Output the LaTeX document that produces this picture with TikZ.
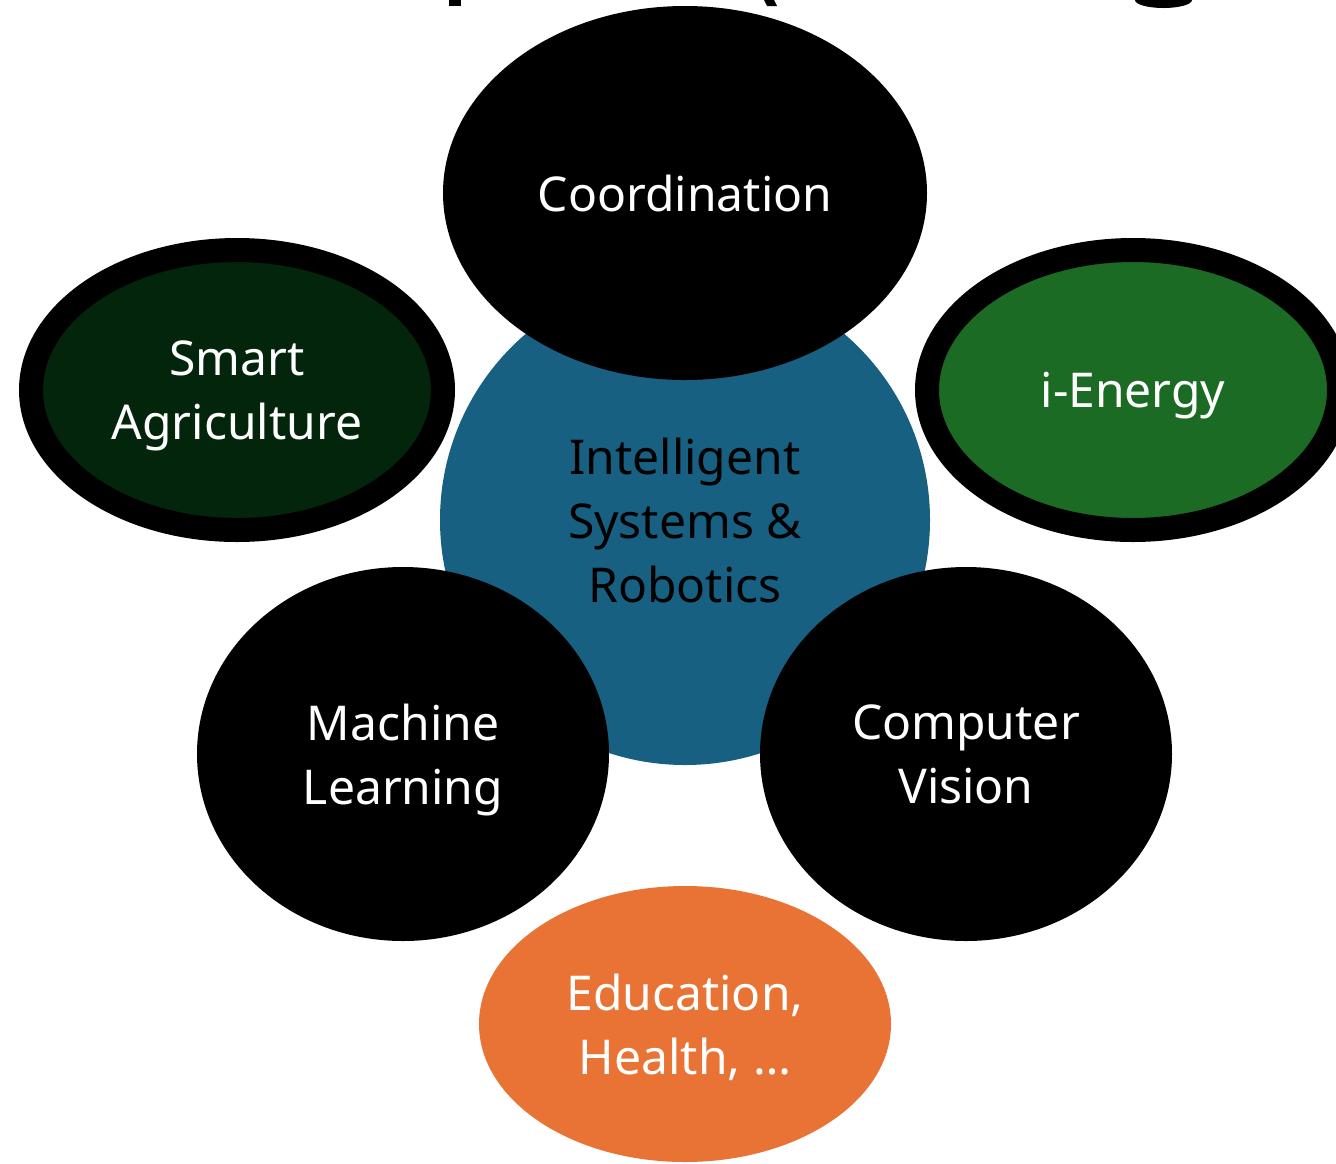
\documentclass[tikz,border=0pt]{standalone}
\usepackage{fontspec}
\setmainfont{Noto Sans}
\usetikzlibrary{shapes.geometric}
\definecolor{hubblue}{RGB}{23,96,130}
\definecolor{agrigreen}{RGB}{3,37,11}
\definecolor{energygreen}{RGB}{27,107,36}
\definecolor{eduorange}{RGB}{233,115,52}
\tikzset{
  lbl/.style={font=\fontsize{48}{64}\selectfont, align=center, text=white, inner sep=0pt, text depth=0pt},
  blackoval/.style={ellipse, fill=black, draw=none, lbl, minimum width=412pt, minimum height=374pt},
  ringoval/.style={ellipse, draw=black, line width=24pt, lbl, minimum width=412pt, minimum height=280pt},
}
\begin{document}
\begin{tikzpicture}[x=1pt,y=-1pt]
\useasboundingbox (0,0) rectangle (1336,1163);
\clip (0,0) rectangle (1336,1163);
\fill[white] (0,0) rectangle (1336,1163);
% cut-off title fragments
\fill[black] (449,-2) rectangle (461,6);
\fill[black] (763,-2) -- (773,-2) -- (777,6) -- (767,6) -- cycle;
\fill[black] (1163.5,0) ellipse [x radius=28.5, y radius=8];
% hub
\node[circle, fill=hubblue, minimum size=490pt, lbl, text=black] (hub) at (685,520) {Intelligent\\Systems \&\\Robotics};
% satellites
\node[ellipse, fill=black, lbl, minimum width=484pt, minimum height=374pt] (coord) at (685,193) {Coordination};
\node[ringoval, fill=agrigreen] (agri) at (237,390) {Smart\\Agriculture};
\node[ringoval, fill=energygreen] (energy) at (1133,390) {i-Energy};
\node[blackoval] (ml) at (403,754) {Machine\\Learning};
\node[blackoval] (cv) at (966,754) {Computer\\Vision};
\node[ellipse, fill=eduorange, lbl, minimum width=412pt, minimum height=276pt] (edu) at (685,1024) {Education,\\Health, \dots};
\end{tikzpicture}
\end{document}
